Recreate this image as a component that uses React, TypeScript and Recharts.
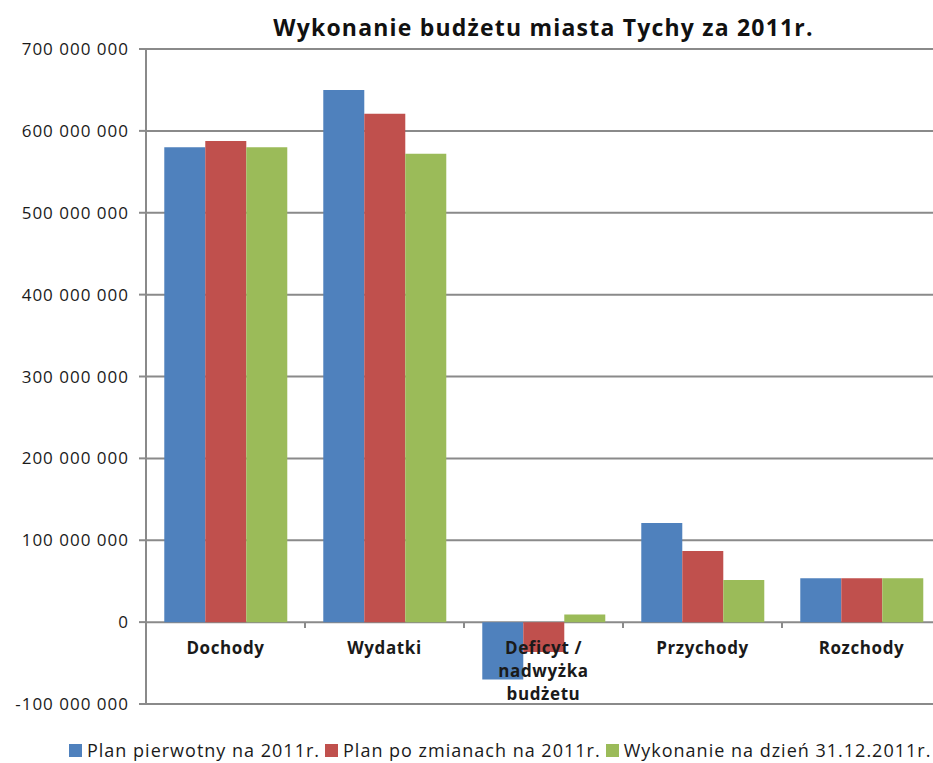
import { Bar, BarChart, CartesianGrid, Legend, XAxis, YAxis } from "recharts"

const categories = ["Dochody", "Wydatki", "Deficyt / nadwyżka budżetu", "Przychody", "Rozchody"]
const planPierwotny = [580000000, 650000000, -70000000, 121000000, 53500000]
const planPoZmianach = [587500000, 621000000, -36500000, 87000000, 53500000]
const wykonanie = [580000000, 572000000, 9200000, 51500000, 53500000]
const yTicks = [-100000000, 0, 100000000, 200000000, 300000000, 400000000, 500000000, 600000000, 700000000]

const seriesNames = ["Plan pierwotny na 2011r.", "Plan po zmianach na 2011r.", "Wykonanie na dzień 31.12.2011r."]
const colors = ["#4F81BD", "#C0504D", "#9BBB59"]

const data = categories.map((name, i) => ({
  name,
  a: planPierwotny[i],
  b: planPoZmianach[i],
  c: wykonanie[i],
}))

const WIDTH = 941
const HEIGHT = 763
const LEFT = 146
const TOP = 49
const X_HEIGHT = 20
const BOTTOM = 59 - X_HEIGHT
const BAND = (WIDTH - LEFT) / categories.length
const FONT = "'Open Sans', sans-serif"
const GRID = "#8a8a8a"

const fmt = (v: number) => String(v).replace(/\B(?=(\d{3})+(?!\d))/g, " ")

function CategoryTick(props: any) {
  const { x, payload } = props
  // zero line sits 82px above the plot bottom
  const zeroY = HEIGHT - 59 - 82
  const words: string[] = payload.value.includes("/")
    ? ["Deficyt /", "nadwyżka", "budżetu"]
    : [payload.value]
  return (
    <g>
      <line x1={x - BAND / 2} x2={x - BAND / 2} y1={zeroY} y2={zeroY + 6} stroke={GRID} strokeWidth={2} />
      <text x={x} y={zeroY + 32} textAnchor="middle" fontFamily={FONT} fontWeight="bold" fontSize={17} letterSpacing={0.6} fill="#1a1a1a">
        {words.map((w, i) => (
          <tspan key={i} x={x} dy={i === 0 ? 0 : 23}>
            {w}
          </tspan>
        ))}
      </text>
    </g>
  )
}

function LegendContent() {
  return (
    <div style={{ display: "flex", whiteSpace: "nowrap", paddingLeft: 69, fontFamily: FONT, fontSize: 18, letterSpacing: 1, color: "#1a1a1a", lineHeight: "22px" }}>
      {seriesNames.map((n, i) => (
        <div key={n} style={{ display: "flex", flexShrink: 0, alignItems: "center", marginRight: 5 }}>
          <span style={{ width: 13, height: 13, background: colors[i], display: "inline-block", marginRight: 5 }} />
          <span>{n}</span>
        </div>
      ))}
    </div>
  )
}

export default function App() {
  return (
    <div style={{ width: 933, height: HEIGHT, overflow: "hidden", background: "#fff", position: "relative" }}>
      <style>{"body{margin:0}"}</style>
      <div style={{ position: "absolute", top: 12, left: LEFT, width: WIDTH - LEFT, textAlign: "center", fontFamily: FONT, fontWeight: "bold", fontSize: 23, letterSpacing: 1.2, color: "#111", lineHeight: "30px" }}>
        Wykonanie budżetu miasta Tychy za 2011r.
      </div>
      <BarChart
        width={WIDTH}
        height={HEIGHT}
        data={data}
        margin={{ top: TOP, right: 0, left: 0, bottom: BOTTOM }}
        barCategoryGap="11.5%"
        barGap={0}
      >
        <CartesianGrid vertical={false} stroke={GRID} strokeWidth={2} />
        <YAxis
          width={LEFT}
          domain={[-100000000, 700000000]}
          ticks={yTicks}
          tickFormatter={fmt}
          axisLine={{ stroke: GRID, strokeWidth: 2 }}
          tickLine={{ stroke: GRID, strokeWidth: 2 }}
          tickSize={7}
          tickMargin={10}
          tick={{ fontFamily: FONT, fontSize: 17, letterSpacing: 1, fill: "#1a1a1a" }}
        />
        <XAxis dataKey="name" axisLine={false} tickLine={false} height={X_HEIGHT} tick={<CategoryTick />} interval={0} />
        <Legend
          verticalAlign="middle"
          align="center"
          content={<LegendContent />}
          wrapperStyle={{ top: 739, left: 0, width: 933 }}
        />
        <Bar dataKey="a" name={seriesNames[0]} fill={colors[0]} isAnimationActive={false} />
        <Bar dataKey="b" name={seriesNames[1]} fill={colors[1]} isAnimationActive={false} />
        <Bar dataKey="c" name={seriesNames[2]} fill={colors[2]} isAnimationActive={false} />
      </BarChart>
    </div>
  )
}
